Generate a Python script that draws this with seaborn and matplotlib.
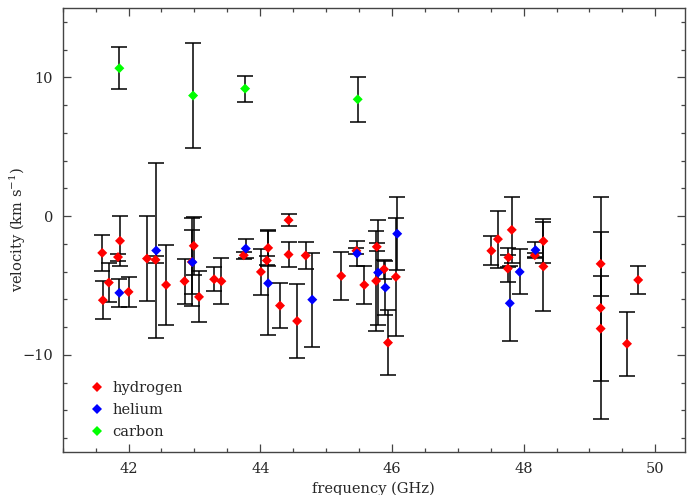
import numpy as np
import pandas as pd
import matplotlib
matplotlib.use("Agg")
import matplotlib.pyplot as plt
from matplotlib.ticker import MultipleLocator
import seaborn as sns

# ---- data ----
h_freq = [41.60, 41.61, 41.70, 41.87, 41.84, 42.00, 42.28, 42.41, 42.57, 42.85,
          42.99, 42.96, 43.07, 43.30, 43.41, 43.75, 44.01, 44.12, 44.10, 44.30,
          44.43, 44.43, 44.56, 44.69, 45.23, 45.46, 45.58, 45.77, 45.76, 45.88,
          45.94, 46.06, 47.51, 47.61, 47.82, 47.77, 47.76, 48.17, 48.30, 48.30,
          49.17, 49.17, 49.17, 49.57, 49.74]
h_vel = [-2.65, -6.06, -4.79, -1.78, -2.95, -5.46, -3.06, -3.15, -4.96, -4.69,
         -2.14, -3.30, -5.82, -4.55, -4.69, -2.82, -4.02, -2.29, -3.20, -6.45,
         -0.29, -2.77, -7.56, -2.84, -4.31, -2.50, -4.96, -2.21, -4.67, -3.83,
         -9.12, -4.38, -2.50, -1.66, -0.99, -2.98, -3.78, -2.82, -1.80, -3.63,
         -3.44, -6.62, -8.11, -9.20, -4.60]
h_err = [1.30, 1.36, 1.40, 1.80, 0.25, 1.07, 3.05, 0.25, 2.87, 1.63,
         2.10, 3.20, 1.84, 0.87, 1.65, 0.25, 1.65, 1.27, 0.30, 1.63,
         0.43, 0.93, 2.67, 1.00, 1.71, 0.20, 1.36, 0.29, 3.60, 0.68,
         2.33, 4.23, 1.05, 2.05, 2.36, 0.66, 1.00, 0.15, 1.60, 3.20,
         2.30, 8.00, 3.80, 2.30, 1.02]

he_freq = [41.86, 42.42, 42.97, 43.78, 44.12, 44.79, 45.47, 45.79, 45.90, 46.08,
           47.79, 47.94, 48.18]
he_vel = [-5.53, -2.48, -3.32, -2.34, -4.84, -6.02, -2.70, -4.07, -5.15, -1.27,
          -6.28, -4.02, -2.45]
he_err = [1.00, 6.30, 2.30, 0.70, 3.75, 3.39, 0.90, 3.77, 1.95, 2.64,
          2.70, 1.62, 0.57]

c_freq = [41.86, 42.98, 43.77, 45.48]
c_vel = [10.66, 8.69, 9.19, 8.42]
c_err = [1.50, 3.80, 0.93, 1.64]

species = ["hydrogen", "helium", "carbon"]
colors = {"hydrogen": "#ff0000", "helium": "#0000ff", "carbon": "#00ff00"}

df = pd.concat([
    pd.DataFrame({"freq": h_freq, "vel": h_vel, "err": h_err, "species": "hydrogen"}),
    pd.DataFrame({"freq": he_freq, "vel": he_vel, "err": he_err, "species": "helium"}),
    pd.DataFrame({"freq": c_freq, "vel": c_vel, "err": c_err, "species": "carbon"}),
], ignore_index=True)

# ---- style ----
sns.set_style("ticks")
plt.rcParams["font.family"] = ["DejaVu Serif"]
plt.rcParams["mathtext.fontset"] = "dejavuserif"

fig = plt.figure(figsize=(6.87, 4.95), dpi=100)
ax = fig.add_axes([0.0913, 0.0869, 0.9057, 0.8969])

ax.errorbar(df["freq"], df["vel"], yerr=df["err"], fmt="none",
            ecolor="black", elinewidth=1.1, capsize=6, capthick=1.1, zorder=1)

sns.scatterplot(data=df, x="freq", y="vel", hue="species", hue_order=species,
                palette=colors, marker="D", s=26, linewidth=0, ax=ax, zorder=3)

ax.set_xlim(41, 50.45)
ax.set_ylim(-17, 15)
ax.xaxis.set_major_locator(MultipleLocator(2))
ax.xaxis.set_minor_locator(MultipleLocator(0.5))
ax.yaxis.set_major_locator(MultipleLocator(10))
ax.yaxis.set_minor_locator(MultipleLocator(2))
ax.tick_params(which="both", direction="in", top=True, right=True,
               labelsize=10.5, width=0.9, color="#444444")
ax.tick_params(which="major", length=6, pad=7)
ax.tick_params(which="minor", length=3)
for s in ax.spines.values():
    s.set_linewidth(1.0)
    s.set_color("#444444")

ax.set_xlabel("frequency (GHz)", fontsize=10.5, labelpad=4)
ax.set_ylabel("velocity (km s$^{-1}$)", fontsize=10.5)
ax.yaxis.set_label_coords(-0.056, 0.5)

handles, labels = ax.get_legend_handles_labels()
ax.legend(handles, labels, loc="lower left", bbox_to_anchor=(0.01, 0.0),
          frameon=False, fontsize=10.5, handletextpad=0.1, labelspacing=0.55,
          markerscale=1.0)

fig.savefig("out.png", dpi=100)
